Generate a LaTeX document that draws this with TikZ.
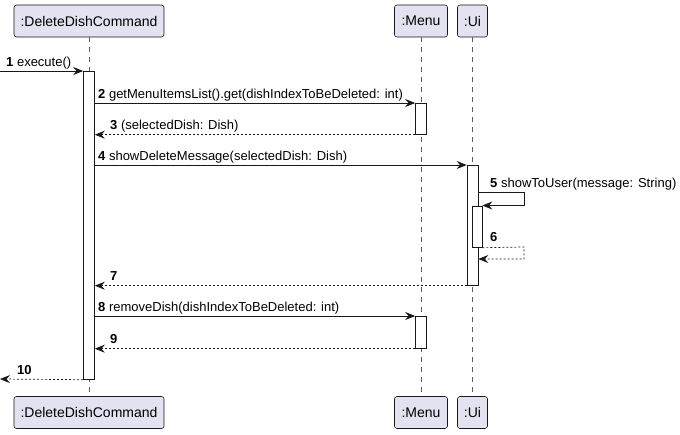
\documentclass[tikz,border=0pt]{standalone}
\usepackage{fontspec}
\setmainfont{Liberation Sans}
\usetikzlibrary{arrows.meta,calc}
\definecolor{partfill}{HTML}{E2E2F0}
\definecolor{ink}{HTML}{181818}
\tikzset{
  part/.style={draw=ink, fill=partfill, line width=0.6pt, rounded corners=2.5pt,
    minimum height=32pt, inner sep=0pt, font=\fontsize{14}{16}\selectfont},
  lifeline/.style={draw=ink!70, line width=0.5pt, dash pattern=on 5pt off 5pt},
  act/.style={draw=ink, fill=white, line width=0.7pt, minimum width=11pt, inner sep=0pt, anchor=north},
  act2/.style={draw=ink, fill=white, line width=0.7pt, minimum width=10pt, inner sep=0pt, anchor=north},
  msg/.style={draw=ink, line width=0.7pt, -{Stealth[length=10pt,width=8pt,inset=3.5pt]}},
  ret/.style={msg, dash pattern=on 2pt off 2pt},
  lbl/.style={anchor=base west, inner sep=0pt, font=\fontsize{13}{15}\selectfont},
}
\begin{document}
\begin{tikzpicture}[x=1pt,y=-1pt]
\useasboundingbox (0,0) rectangle (680,434);
% participants
\node[part, minimum width=150pt] (cmdT) at (89,21) {:DeleteDishCommand};
\node[part, minimum width=53pt] (menuT) at (421,21) {:Menu};
\node[part, minimum width=30pt] (uiT) at (472.5,21) {:Ui};
\node[part, minimum width=150pt] (cmdB) at (89,412.5) {:DeleteDishCommand};
\node[part, minimum width=53pt] (menuB) at (421,412.5) {:Menu};
\node[part, minimum width=30pt] (uiB) at (472.5,412.5) {:Ui};
% lifelines
\draw[lifeline] (cmdT.south) -- (cmdB.north);
\draw[lifeline] (menuT.south) -- (menuB.north);
\draw[lifeline] (uiT.south) -- (uiB.north);
% activations
\node[act, minimum height=308pt] (a1) at (89,71) {};
\node[act, minimum height=31pt] (m1) at (421,103) {};
\node[act, minimum height=120pt] (u1) at (472.5,165) {};
\node[act2, minimum height=41.5pt] (u2) at (477,205.5) {};
\node[act, minimum height=32pt] (m2) at (421,316) {};
% message 1
\coordinate (in1) at (0,71);
\draw[msg] (in1) -- (a1.north west);
\node[lbl] (l1) at (6,66) {\textbf{1} execute()};
% message 2
\draw[msg] (a1.east |- m1.north) -- (m1.north west);
\node[lbl] (l2) at (98,98) {\textbf{2} getMenuItemsList().get(dishIndexToBeDeleted: int)};
% message 3
\draw[ret] (m1.south west) -- (a1.east |- m1.south);
\node[lbl] (l3) at (110,129) {\textbf{3} (selectedDish: Dish)};
% message 4
\draw[msg] (a1.east |- u1.north) -- (u1.north west);
\node[lbl] (l4) at (98,160) {\textbf{4} showDeleteMessage(selectedDish: Dish)};
% message 5 (self)
\coordinate (s5a) at (u1.east |- 0,192);
\coordinate (s5b) at (524,192);
\coordinate (s5c) at (524,205.5);
\draw[msg] (s5a) -- (s5b) -- (s5c) -- (u2.north east);
\node[lbl] (l5) at (490,187) {\textbf{5} showToUser(message: String)};
% message 6 (self return)
\coordinate (s6b) at (524,247);
\coordinate (s6c) at (524,259);
\coordinate (s6d) at (u1.east |- 0,259);
\draw[ret] (u2.south east) -- (s6b) -- (s6c) -- (s6d);
\node[lbl] (l6) at (490,241) {\textbf{6}};
% message 7
\draw[ret] (u1.south west) -- (a1.east |- u1.south);
\node[lbl] (l7) at (110,280) {\textbf{7}};
% message 8
\draw[msg] (a1.east |- m2.north) -- (m2.north west);
\node[lbl] (l8) at (98,311) {\textbf{8} removeDish(dishIndexToBeDeleted: int)};
% message 9
\draw[ret] (m2.south west) -- (a1.east |- m2.south);
\node[lbl] (l9) at (110,343) {\textbf{9}};
% message 10
\coordinate (out10) at (0,379);
\draw[ret] (a1.south west) -- (out10);
\node[lbl] (l10) at (17,374) {\textbf{10}};
\end{tikzpicture}
\end{document}
